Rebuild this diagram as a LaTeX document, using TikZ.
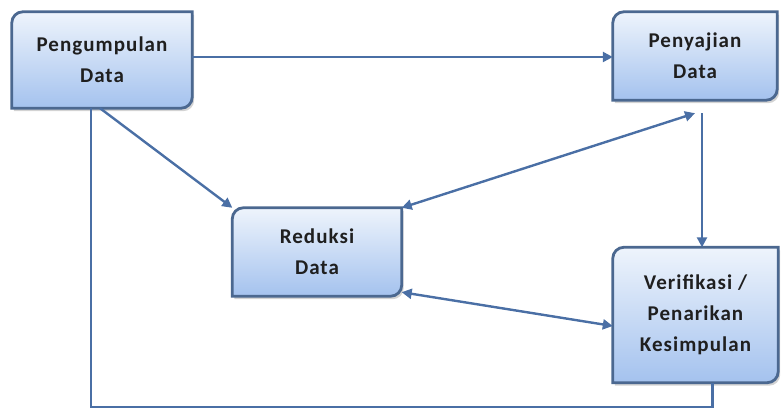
\documentclass[tikz,border=0pt]{standalone}
\usepackage{fontspec}
\setmainfont{Carlito}[LetterSpace=5]
\usetikzlibrary{arrows.meta,shadows,backgrounds}

\definecolor{garisbiru}{HTML}{4A6FA5}
\definecolor{tepi}{HTML}{4B6890}
\definecolor{atas}{HTML}{EEF4FC}
\definecolor{bawah}{HTML}{A4C2EE}

% kotak dengan sudut kiri atas dan kanan bawah membulat
\newcommand{\kotakbg}[1]{%
  \draw[kotak] (#1.south west) -- ([yshift=-11pt]#1.north west)
    arc[start angle=180,end angle=90,radius=11pt] -- (#1.north east)
    -- ([yshift=11pt]#1.south east)
    arc[start angle=0,end angle=-90,radius=11pt] -- cycle;}

\begin{document}
\begin{tikzpicture}
  [x=1pt,y=1pt,
   every node/.style={align=center,text=black!88,
     font=\fontsize{21}{31}\selectfont\bfseries},
   kotak/.style={draw=tepi,line width=2.8pt,top color=atas,bottom color=bawah,
     drop shadow={shadow xshift=2pt,shadow yshift=-3pt,opacity=.35}},
   panah/.style={draw=garisbiru,line width=2.4pt,-{Triangle[length=10pt,width=10pt]}},
   panah2/.style={panah,{Triangle[length=10pt,width=10pt]}-{Triangle[length=10pt,width=10pt]}},
   garis/.style={draw=garisbiru,line width=2.4pt}]
  \useasboundingbox (0,0) rectangle (781,412);

  \node (kumpul)  at (102,352)   [minimum width=180pt,minimum height=96pt]  {Pengumpulan\\Data};
  \node (saji)    at (695,356)   [minimum width=164pt,minimum height=88pt]  {Penyajian\\Data};
  \node (reduksi) at (317,160)   [minimum width=169pt,minimum height=88pt]  {Reduksi\\Data};
  \node (verif)   at (695.5,97)  [minimum width=165pt,minimum height=135pt] {Verifikasi /\\Penarikan\\Kesimpulan};

  \begin{scope}[on background layer]
    \foreach \n in {kumpul,saji,reduksi,verif}
      {\kotakbg{\n}}
  \end{scope}

  \coordinate (turun) at ([xshift=7pt,yshift=-13pt]saji.south);
  \coordinate (sudut) at (91,5);

  \draw[panah] ([yshift=3pt]kumpul.east) -- ([yshift=3pt]kumpul.east -| saji.west);
  \draw[panah] ([xshift=-2pt]kumpul.south) -- (reduksi.north west);
  \draw[panah2] (reduksi.north east) -- ([yshift=-13pt]saji.south);
  \draw[panah] (turun) -- (turun |- verif.north);
  \draw[panah2] ([yshift=4pt]reduksi.south east) -- ([yshift=-11pt]verif.west);
  \draw[garis] (kumpul.south -| sudut) -- (sudut) -| ([xshift=17pt]verif.south);
\end{tikzpicture}
\end{document}
